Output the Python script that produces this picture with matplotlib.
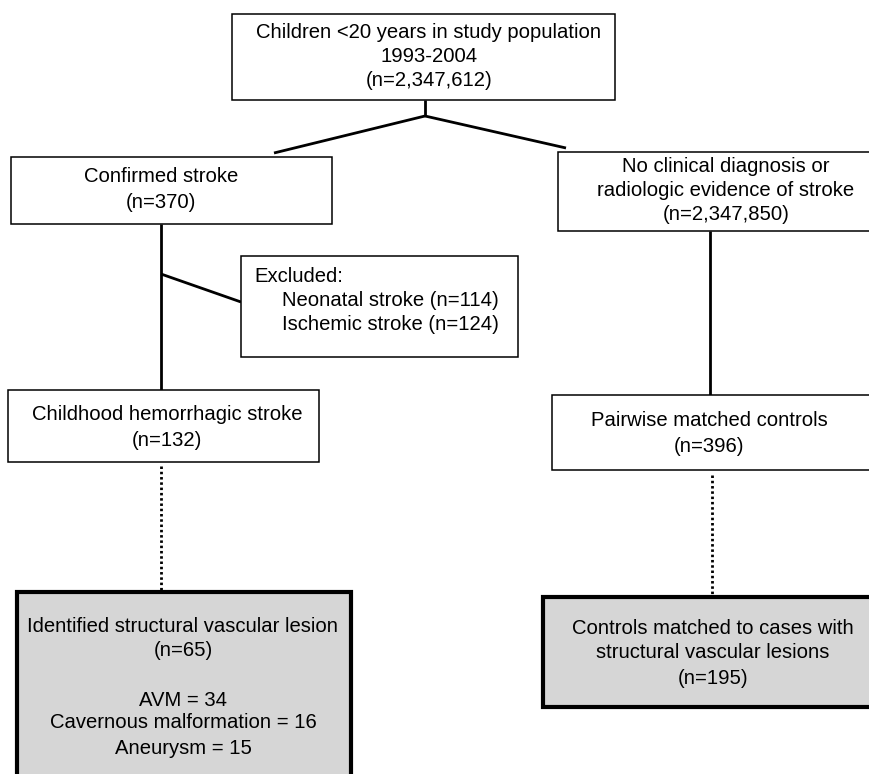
import matplotlib
matplotlib.use("Agg")
import matplotlib.pyplot as plt
from matplotlib.patches import Rectangle

# ---- data (texts of the flowchart) ----
top_text = ["Children <20 years in study population", "1993-2004", "(n=2,347,612)"]
confirmed_text = ["Confirmed stroke", "(n=370)"]
noclin_text = ["No clinical diagnosis or", "radiologic evidence of stroke", "(n=2,347,850)"]
excluded_title = "Excluded:"
excluded_items = ["Neonatal stroke (n=114)", "Ischemic stroke (n=124)"]
childhood_text = ["Childhood hemorrhagic stroke", "(n=132)"]
pairwise_text = ["Pairwise matched controls", "(n=396)"]
identified_text = ["Identified structural vascular lesion", "(n=65)", "",
                   "AVM = 34", "Cavernous malformation = 16", "Aneurysm = 15"]
controls_text = ["Controls matched to cases with", "structural vascular lesions", "(n=195)"]

W, H = 870, 774
fig = plt.figure(figsize=(W / 100, H / 100), dpi=100)
ax = fig.add_axes([0, 0, 1, 1])
ax.set_xlim(0, W)
ax.set_ylim(H, 0)
ax.axis("off")

FONT = "Liberation Sans"
FS = 14.6
GRAY = "#d6d6d6"


def box(x0, y0, x1, y1, lw=1.1, fc="white"):
    ax.add_patch(Rectangle((x0, y0), x1 - x0, y1 - y0, fill=True, fc=fc,
                           ec="black", lw=lw, zorder=2))


def lines(cx, ys, texts, ha="center"):
    for y, t in zip(ys, texts):
        if t:
            ax.text(cx, y, t, ha=ha, va="center", fontsize=FS, family=FONT, zorder=3)


def seg(x0, y0, x1, y1, lw=2.0, ls="-"):
    ax.plot([x0, x1], [y0, y1], color="black", lw=lw, ls=ls,
            solid_capstyle="butt", zorder=1)


# connectors
seg(425, 100, 425, 116)
seg(425, 116, 274, 153)
seg(425, 116, 566, 148)
seg(161, 224, 161, 390)
seg(161, 274, 241, 302)
seg(710, 231, 710, 395)
seg(161, 466, 161, 590, lw=2.0, ls=(0, (0.9, 1.0)))
seg(712, 475, 712, 596, lw=2.0, ls=(0, (0.9, 1.0)))

# boxes
box(232, 14, 615, 100)
lines(429, [32, 57, 81], top_text)

box(11, 157, 332, 224)
lines(161, [177, 202], confirmed_text)

box(558, 152, 880, 231)
lines(726, [167, 191, 215], noclin_text)

box(241, 256, 518, 357)
ax.text(254, 276, excluded_title, ha="left", va="center", fontsize=FS, family=FONT, zorder=3)
lines(282, [300, 324], excluded_items, ha="left")

box(8, 390, 319, 462)
lines(167, [414, 440], childhood_text)

box(552, 395, 880, 470)
lines(709, [421, 446], pairwise_text)

box(17, 592, 351, 790, lw=3.0, fc=GRAY)
lines(183, [626, 651, 675, 700, 723, 748], identified_text)

box(543, 597, 880, 707, lw=3.0, fc=GRAY)
lines(713, [628, 653, 678], controls_text)

fig.savefig("out.png", dpi=100)
